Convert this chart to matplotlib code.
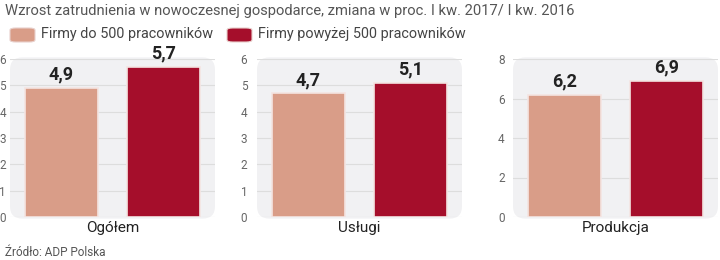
import matplotlib
matplotlib.use('Agg')
import matplotlib.pyplot as plt
from matplotlib.patches import FancyBboxPatch
import numpy as np

plt.rcParams['font.family'] = ['Roboto', 'DejaVu Sans']

title = 'Wzrost zatrudnienia w nowoczesnej gospodarce, zmiana w proc. I kw. 2017/ I kw. 2016'
series = ['Firmy do 500 pracowników', 'Firmy powyżej 500 pracowników']
panels = ['Ogółem', 'Usługi', 'Produkcja']
small_firms = [4.9, 4.7, 6.2]
big_firms = [5.7, 5.1, 6.9]
y_max = [6, 6, 8]
y_ticks = [[0, 1, 2, 3, 4, 5, 6], [0, 1, 2, 3, 4, 5, 6], [0, 2, 4, 6, 8]]
source = 'Źródło: ADP Polska'

colors = ['#d99d88', '#a50e2b']
W, H = 720, 260
fig = plt.figure(figsize=(7.2, 2.6), dpi=100)

fig.text(5 / W, 1 - 11 / H, title, fontsize=10.6, color='#555555', va='center')
# legend
leg_x = [10, 227]
for lx, name, c in zip(leg_x, series, colors):
    fig.patches.append(FancyBboxPatch((lx / W, 1 - 42 / H), 25 / W, 14 / H,
                                      boxstyle='round,pad=0,rounding_size=0.008',
                                      transform=fig.transFigure, fc=c, ec='#e8d0cc', lw=0.8))
    fig.text((lx + 31) / W, 1 - 34 / H, name, fontsize=10.4, color='#444444', va='center')

ax_left = [10, 257, 513]
pads = [3, 7, 6]
for i, name in enumerate(panels):
    ax = fig.add_axes([ax_left[i] / W, 1 - 217 / H, 205 / W, 158 / H])
    ax.set_facecolor('none')
    bg = FancyBboxPatch((0, -0.01), 1, 1.02, boxstyle='round,pad=0,rounding_size=0.06',
                        transform=ax.transAxes, fc='#f1f1f3', ec='none', zorder=0,
                        clip_on=False, mutation_aspect=205 / 158)
    ax.add_patch(bg)
    x = np.arange(2)
    vals = [small_firms[i], big_firms[i]]
    bars = ax.bar(x, vals, width=0.71, color=colors, edgecolor='#f4e4e2', linewidth=1.2, zorder=3)
    for b, v in zip(bars, vals):
        ax.annotate(f'{v:.1f}'.replace('.', ','), (b.get_x() + b.get_width() / 2, v),
                    xytext=(0, 3), textcoords='offset points', ha='center', va='bottom',
                    fontsize=13, fontweight='bold', color='#222222')
    ax.set_xlim(-0.5, 1.5)
    ax.set_ylim(0, y_max[i])
    ax.set_yticks(y_ticks[i])
    ax.set_xticks([])
    ax.grid(axis='y', color='#dddddd', lw=0.8, zorder=1)
    ax.tick_params(axis='y', length=0, pad=pads[i], labelsize=8.5, labelcolor='#666666')
    for s in ax.spines.values():
        s.set_visible(False)
    ax.set_xlabel(name, fontsize=11, color='#222222', labelpad=3)

fig.text(5 / W, 1 - 252 / H, source, fontsize=8.5, color='#555555', va='center')

fig.savefig('out.png', dpi=100)
